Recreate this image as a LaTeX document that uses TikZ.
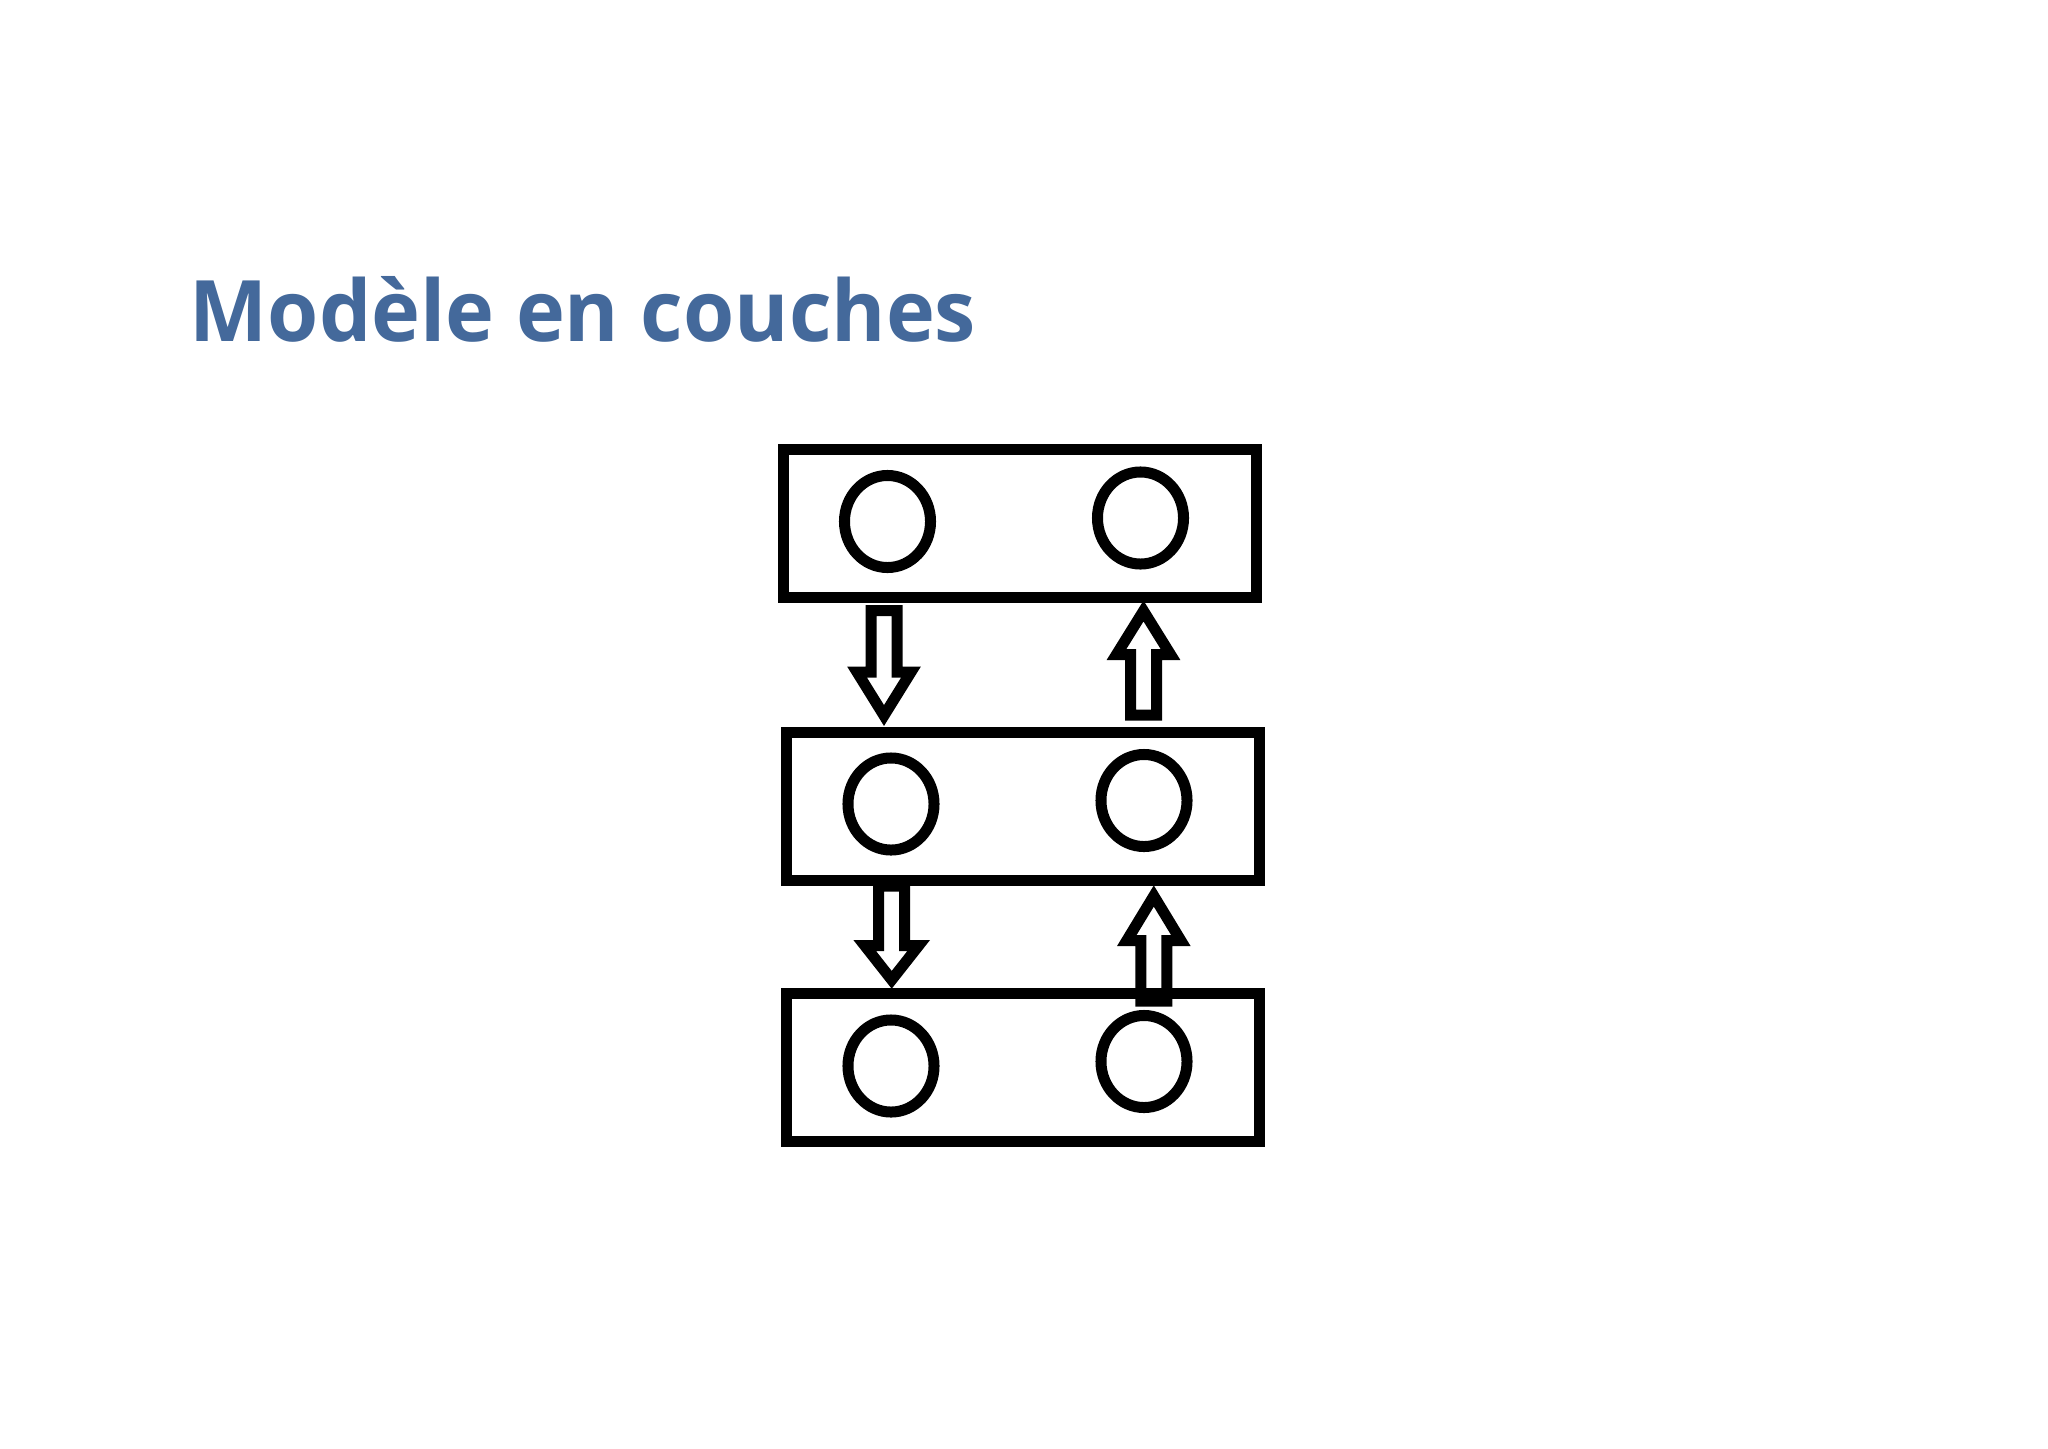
\documentclass[tikz,border=0pt]{standalone}
\usepackage{fontspec}
\setmainfont{Open Sans}
\usetikzlibrary{shapes.geometric}
\definecolor{titleblue}{RGB}{68,105,155}
\tikzset{
  layerbox/.style={draw=black, line width=0.11cm, rectangle, inner sep=0pt,
    minimum width=4.72cm, minimum height=1.48cm},
  elem/.style={draw=black, line width=0.11cm, ellipse, inner sep=0pt,
    minimum width=0.86cm, minimum height=0.92cm},
  blockarrow/.style={draw=black, fill=white, line width=0.11cm, miter limit=10, line join=miter},
}
\begin{document}
\begin{tikzpicture}[x=0.01cm, y=-0.01cm]
\useasboundingbox[fill=white] (0,0) rectangle (2048,1448);

% title
\node[anchor=base west, inner sep=0pt, text=titleblue] (title) at (189,341.7)
  {\resizebox{7.86cm}{0.65cm}{\bfseries Modèle en couches}};

% block arrows (drawn first, boxes overlay them)
% A1 down, top-left
\draw[blockarrow] (871,610.5) -- (897,610.5) -- (897,672) -- (911,672) -- (884,715.5)
  -- (857,672) -- (871,672) -- cycle;
% A2 up, top-right
\draw[blockarrow] (1130.5,715) -- (1156.5,715) -- (1156.5,654.5) -- (1170.5,654.5) -- (1143.5,611)
  -- (1116.5,654.5) -- (1130.5,654.5) -- cycle;
% A3 down, middle-left
\draw[blockarrow] (878.7,886) -- (904.7,886) -- (904.7,945.5) -- (918.7,945.5) -- (891.7,979.8)
  -- (864.7,945.5) -- (878.7,945.5) -- cycle;
% A4 up, middle-right
\draw[blockarrow] (1140.8,1001) -- (1166.8,1001) -- (1166.8,940.5) -- (1180.8,940.5) -- (1153.8,896)
  -- (1126.8,940.5) -- (1140.8,940.5) -- cycle;

% layers
\node[layerbox] (top) at (1020,523.5) {};
\node[layerbox] (mid) at (1023,806.5) {};
\node[layerbox, minimum height=1.475cm] (bot) at (1023,1067.75) {};

% elements
\node[elem] (t1) at (887.5,521.5) {};
\node[elem] (t2) at (1140.5,518) {};
\node[elem] (m1) at (891,804) {};
\node[elem] (m2) at (1144,800.5) {};
\node[elem] (b1) at (891,1066) {};
\node[elem] (b2) at (1144,1061.5) {};
\end{tikzpicture}
\end{document}
